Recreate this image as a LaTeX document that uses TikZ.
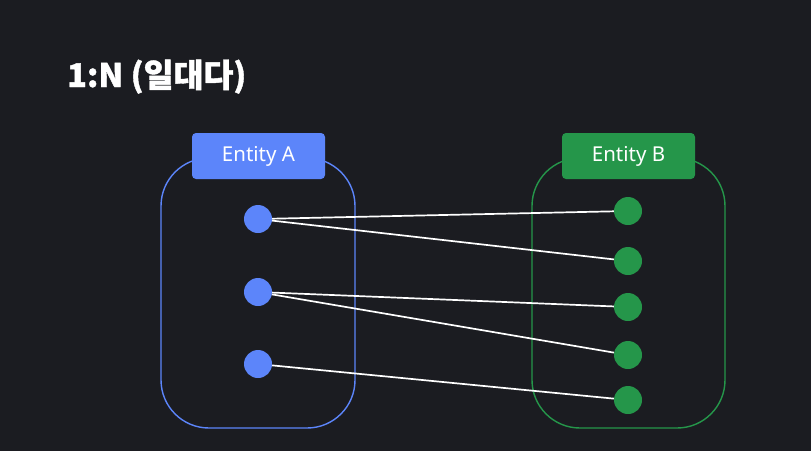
\documentclass[tikz,border=0pt]{standalone}
\usepackage{fontspec}
\setmainfont{Noto Sans}
\newfontfamily\kr{Noto Sans CJK KR}[BoldFeatures={FakeBold=1.2}]
\definecolor{bg}{HTML}{1B1C21}
\definecolor{ablue}{HTML}{5C85FA}
\definecolor{bgreen}{HTML}{25964A}
\begin{document}
\begin{tikzpicture}[x=1pt,y=-1pt,
  container/.style={draw, line width=1.4pt, rounded corners=48pt},
  labelbox/.style={rounded corners=4pt, minimum width=133pt, minimum height=46pt, inner sep=0pt, text=white, font=\fontsize{20.5}{22}\selectfont},
  dot/.style={circle, minimum size=28pt, inner sep=0pt},
  link/.style={draw=white, line width=1.7pt}]
\fill[bg] (0,0) rectangle (811,451);
\useasboundingbox (0,0) rectangle (811,451);
\node[anchor=base west, text=white, inner sep=0pt, font=\kr\bfseries\fontsize{32.5}{36}\selectfont] (title) at (67,87) {1:N (일대다)};
\draw[container, ablue] (161,158) rectangle (355,428);
\draw[container, bgreen] (532,158) rectangle (725,428);
\node[labelbox, fill=ablue] (la) at (258.5,156) {Entity A};
\node[labelbox, fill=bgreen] (lb) at (628.5,156) {Entity B};
\node[dot, fill=ablue] (a1) at (258,219) {};
\node[dot, fill=ablue] (a2) at (258,292) {};
\node[dot, fill=ablue] (a3) at (258,364) {};
\node[dot, fill=bgreen] (b1) at (628,211) {};
\node[dot, fill=bgreen] (b2) at (628,261) {};
\node[dot, fill=bgreen] (b3) at (628,307) {};
\node[dot, fill=bgreen] (b4) at (628,355) {};
\node[dot, fill=bgreen] (b5) at (628,400) {};
\draw[link] (a1) -- (b1);
\draw[link] (a1) -- (b2);
\draw[link] (a2) -- (b3);
\draw[link] (a2) -- (b4);
\draw[link] (a3) -- (b5);
\end{tikzpicture}
\end{document}
